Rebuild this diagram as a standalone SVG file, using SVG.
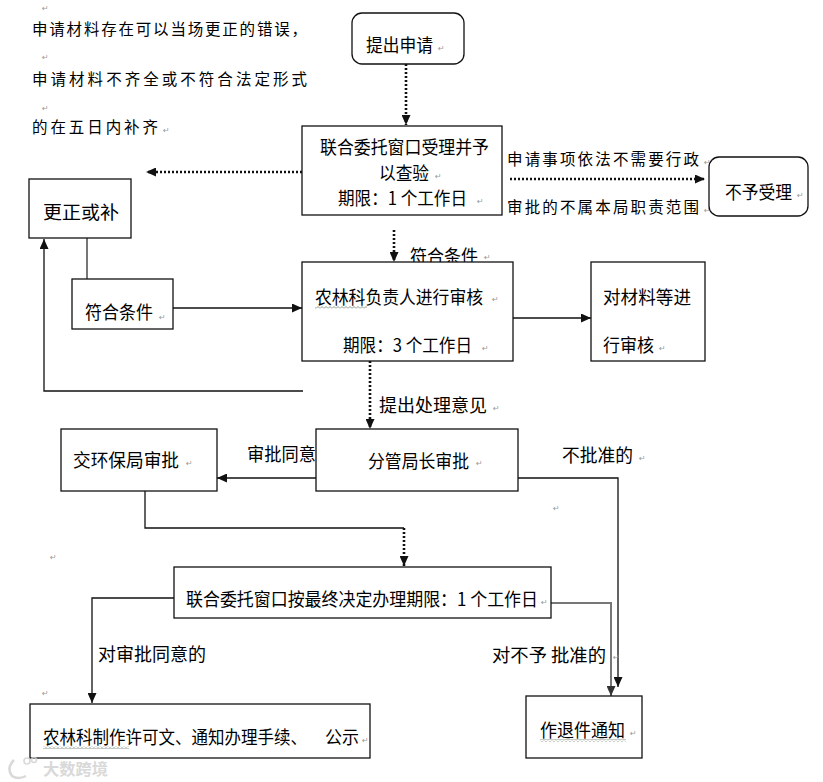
<svg xmlns="http://www.w3.org/2000/svg" width="823" height="782" viewBox="0 0 823 782">
<style>
.bx{fill:#fff;stroke:#111;stroke-width:1.3}
.t{font-family:"Noto Sans CJK SC","Noto Sans",sans-serif;font-size:18px;fill:#000}
.s{font-family:"Noto Sans CJK SC","Noto Sans",sans-serif;font-size:15.5px;fill:#000}
.pm{font-family:"DejaVu Sans",sans-serif;font-size:8px;fill:#999}
.ln{fill:none;stroke:#111;stroke-width:1.3}
.gl{fill:none;stroke:#777;stroke-width:2}
.dt{fill:none;stroke:#111;stroke-width:2.6;stroke-dasharray:2 2}
.wv{fill:url(#wave)}
</style>
<defs>
<marker id="ah" markerUnits="userSpaceOnUse" markerWidth="10" markerHeight="9" refX="10" refY="4.5" orient="auto"><path d="M0,0 L10,4.5 L0,9 z" fill="#111"/></marker>
<marker id="ahg" markerUnits="userSpaceOnUse" markerWidth="10" markerHeight="9" refX="10" refY="4.5" orient="auto"><path d="M0,0 L10,4.5 L0,9 z" fill="#333"/></marker>
<pattern id="wave" width="4" height="3" patternUnits="userSpaceOnUse"><path d="M0,2.5 L2,0.5 L4,2.5" fill="none" stroke="#6b7a6b" stroke-width="0.8"/></pattern>
</defs>
<rect width="823" height="782" fill="#fff"/>

<g id="notes">
<text class="pm" x="42" y="11">↵</text>
<text class="s" x="32" y="35" font-size="15" textLength="275" lengthAdjust="spacing">申请材料存在可以当场更正的错误，</text>
<text class="pm" x="42" y="60">↵</text>
<text class="s" x="32" y="85" font-size="15" textLength="275" lengthAdjust="spacing">申请材料不齐全或不符合法定形式</text>
<text class="pm" x="42" y="111">↵</text>
<text class="s" x="32" y="133" font-size="15"><tspan textLength="126" lengthAdjust="spacing">的在五日内补齐</tspan><tspan class="pm" x="163">↵</tspan></text>
</g>

<g id="connectors">
<line class="dt" x1="406" y1="64" x2="406" y2="125" marker-end="url(#ah)"/>
<line class="dt" x1="302" y1="172" x2="146" y2="172" marker-end="url(#ah)"/>
<line class="dt" x1="510" y1="179" x2="705" y2="179" marker-end="url(#ah)"/>
<text class="s" x="507" y="165"><tspan textLength="192" lengthAdjust="spacing">申请事项依法不需要行政</tspan><tspan class="pm" x="704">↵</tspan></text>
<text class="s" x="507" y="213"><tspan textLength="192" lengthAdjust="spacing">审批的不属本局职责范围</tspan><tspan class="pm" x="704">↵</tspan></text>
<line class="dt" x1="394" y1="230" x2="394" y2="262" marker-end="url(#ah)"/>
<text class="t" x="410" y="263" font-size="17"><tspan textLength="68" lengthAdjust="spacingAndGlyphs">符合条件</tspan><tspan class="pm" x="484" dy="-3">↵</tspan></text>
<line class="gl" x1="87" y1="238" x2="87" y2="279"/>
<line class="ln" x1="173" y1="308" x2="302" y2="308" marker-end="url(#ah)"/>
<polyline class="ln" points="303,391 44,391 44,239" marker-end="url(#ah)"/>
<line class="ln" x1="486" y1="318" x2="591" y2="318" marker-end="url(#ah)"/>
<line class="dt" x1="370" y1="361" x2="370" y2="429" marker-end="url(#ah)"/>
<text class="t" x="379" y="412"><tspan textLength="108" lengthAdjust="spacingAndGlyphs">提出处理意见</tspan><tspan class="pm" x="493" dy="-1">↵</tspan></text>
<line class="ln" x1="316" y1="478" x2="217" y2="478" marker-end="url(#ah)"/>
<text class="t" x="247" y="461" textLength="69" lengthAdjust="spacingAndGlyphs">审批同意</text>
<polyline class="ln" points="518,478 618,478 618,687" marker-end="url(#ah)"/>
<text class="t" x="562" y="462"><tspan textLength="71" lengthAdjust="spacingAndGlyphs">不批准的</tspan><tspan class="pm" x="639" dy="-1">↵</tspan></text>
<text class="pm" x="553" y="511">↵</text>
<polyline class="ln" points="145,491 145,528 404,528"/>
<line class="dt" x1="404" y1="528" x2="404" y2="566" marker-end="url(#ah)"/>
<text class="pm" x="50" y="560">↵</text>
<polyline class="ln" points="174,598 92,598 92,703" marker-end="url(#ah)"/>
<text class="t" x="98" y="661" textLength="108" lengthAdjust="spacingAndGlyphs">对审批同意的</text>
<text class="pm" x="42" y="696">↵</text>
<polyline class="gl" points="551,603 611,603 611,696" marker-end="url(#ahg)"/>
<text class="t" x="492" y="662"><tspan textLength="114" lengthAdjust="spacingAndGlyphs">对不予 批准的</tspan><tspan class="pm" x="613" dy="-2">↵</tspan></text>
</g>

<g id="n-submit">
<rect class="bx" x="352" y="13" width="112" height="51" rx="10"/>
<text class="t" x="366" y="52"><tspan textLength="67" lengthAdjust="spacingAndGlyphs">提出申请</tspan><tspan class="pm" x="438" dy="-1">↵</tspan></text>
</g>

<g id="n-accept">
<rect class="bx" x="302" y="126" width="200" height="89"/>
<text class="t" x="320" y="154" textLength="169" lengthAdjust="spacingAndGlyphs">联合委托窗口受理并予</text>
<text class="t" x="379" y="180"><tspan textLength="50" lengthAdjust="spacingAndGlyphs">以查验</tspan><tspan class="pm" x="435" dy="-1">↵</tspan></text>
<text class="t" x="338" y="205" font-size="17.5"><tspan textLength="129" lengthAdjust="spacingAndGlyphs">期限：1 个工作日</tspan><tspan class="pm" x="477" dy="-1">↵</tspan></text>
</g>

<g id="n-reject">
<rect class="bx" x="709" y="157" width="99" height="59" rx="10"/>
<text class="t" x="725" y="199"><tspan textLength="67" lengthAdjust="spacingAndGlyphs">不予受理</tspan><tspan class="pm" x="797" dy="-1">↵</tspan></text>
</g>

<g id="n-correct">
<rect class="bx" x="29" y="179" width="102" height="59"/>
<text class="t" x="43" y="219" textLength="76" lengthAdjust="spacingAndGlyphs">更正或补</text>
</g>

<g id="n-qualify">
<rect class="bx" x="72" y="279" width="101" height="50"/>
<text class="t" x="85" y="319"><tspan textLength="68" lengthAdjust="spacingAndGlyphs">符合条件</tspan><tspan class="pm" x="159" dy="1">↵</tspan></text>
</g>

<g id="n-review">
<rect class="bx" x="302" y="262" width="211" height="99"/>
<text class="t" x="315" y="304" font-size="17"><tspan textLength="168" lengthAdjust="spacingAndGlyphs">农林科负责人进行审核</tspan><tspan class="pm" x="492" dy="-2">↵</tspan></text>
<rect class="wv" x="315" y="306" width="52" height="3"/>
<text class="t" x="343" y="352" font-size="17.5"><tspan textLength="129" lengthAdjust="spacingAndGlyphs">期限：3 个工作日</tspan><tspan class="pm" x="482" dy="-1">↵</tspan></text>
</g>

<g id="n-materials">
<rect class="bx" x="591" y="262" width="114" height="99"/>
<text class="t" x="603" y="304" textLength="88" lengthAdjust="spacingAndGlyphs">对材料等进</text>
<text class="t" x="603" y="352"><tspan textLength="51" lengthAdjust="spacingAndGlyphs">行审核</tspan><tspan class="pm" x="659" dy="-1">↵</tspan></text>
</g>

<g id="n-env">
<rect class="bx" x="61" y="429" width="156" height="62"/>
<text class="t" x="73" y="467"><tspan textLength="106" lengthAdjust="spacingAndGlyphs">交环保局审批</tspan><tspan class="pm" x="186" dy="-1">↵</tspan></text>
</g>

<g id="n-director">
<rect class="bx" x="316" y="429" width="202" height="62"/>
<text class="t" x="368" y="468" font-size="17.5"><tspan textLength="101" lengthAdjust="spacingAndGlyphs">分管局长审批</tspan><tspan class="pm" x="476" dy="-2">↵</tspan></text>
</g>

<g id="n-final">
<rect class="bx" x="174" y="567" width="377" height="51"/>
<text class="t" x="186" y="606" font-size="16.5"><tspan textLength="352" lengthAdjust="spacingAndGlyphs">联合委托窗口按最终决定办理期限：1 个工作日</tspan><tspan class="pm" x="541" dy="-1">↵</tspan></text>
</g>

<g id="n-permit">
<rect class="bx" x="30" y="704" width="340" height="54"/>
<text class="t" x="43" y="744" font-size="17"><tspan textLength="264" lengthAdjust="spacingAndGlyphs">农林科制作许可文、通知办理手续、</tspan><tspan x="325" textLength="34" lengthAdjust="spacingAndGlyphs">公示</tspan><tspan class="pm" x="362" dy="-1">↵</tspan></text>
<rect class="wv" x="43" y="746" width="86" height="3"/>
</g>

<g id="n-return">
<rect class="bx" x="526" y="696" width="116" height="62"/>
<text class="t" x="540" y="737"><tspan textLength="85" lengthAdjust="spacingAndGlyphs">作退件通知</tspan><tspan class="pm" x="630" dy="-1">↵</tspan></text>
<rect class="wv" x="540" y="739" width="86" height="3"/>
</g>

<g id="watermark" opacity="0.8">
<path d="M14,760 Q6,768 12,776 Q18,780 26,776" fill="none" stroke="#d0d0d0" stroke-width="2.5"/>
<circle cx="27" cy="761" r="3" fill="none" stroke="#d0d0d0" stroke-width="1.6"/>
<circle cx="34" cy="760" r="2.5" fill="none" stroke="#d0d0d0" stroke-width="1.6"/>
<text x="43" y="775" font-family="Noto Sans CJK SC, sans-serif" font-size="16" font-weight="bold" fill="#d0d0d0" textLength="65" lengthAdjust="spacingAndGlyphs">大数跨境</text>
</g>
</svg>
